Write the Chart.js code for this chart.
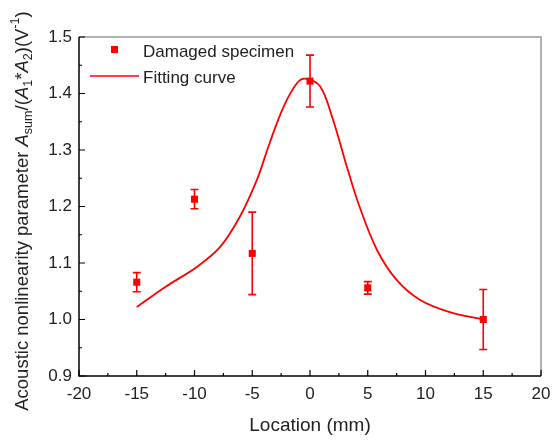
<!DOCTYPE html>
<html>
<head>
<meta charset="utf-8">
<script src="https://cdn.jsdelivr.net/npm/chart.js@4.4.1/dist/chart.umd.min.js"></script>
<style>
  html, body { margin: 0; padding: 0; background: #fff; }
  #wrap { width: 552px; height: 441px; }
</style>
</head>
<body>
<div id="wrap"><canvas id="chart" width="552" height="441"></canvas></div>
<script>
// measured points
const locations = [-15, -10, -5, 0, 5, 15]
const values = [1.066, 1.213, 1.117, 1.422, 1.056, 1.0]
const errors = [0.017, 0.017, 0.073, 0.046, 0.011, 0.053]

// fitting curve
const fitX = [-15, -12.5, -9.8, -7.8, -6.1, -4.6, -3.5, -2.3, -1.1, -0.3, 0.9, 2.0, 3.2, 4.3, 5.8, 7.5, 9.5, 12.1, 15]
const fitY = [1.022, 1.058, 1.093, 1.128, 1.181, 1.247, 1.312, 1.376, 1.419, 1.426, 1.412, 1.353, 1.27, 1.199, 1.123, 1.07, 1.035, 1.013, 1.0]

const xTicks = [-20, -15, -10, -5, 0, 5, 10, 15, 20]
const yTicks = [0.9, 1.0, 1.1, 1.2, 1.3, 1.4, 1.5]

const RED = '#ff0000'
const FONT = '"Liberation Sans", Arial, sans-serif'

function richText(ctx, parts, x, y, size) {
  // parts: [text, style] style: '', 'i', 'sub', 'sup'
  let cx = x
  parts.forEach(([t, s]) => {
    let sz = size, dy = 0, st = ''
    if (s === 'i') st = 'italic '
    if (s === 'sub') { sz = size * 0.68; dy = size * 0.3 }
    if (s === 'sup') { sz = size * 0.68; dy = -size * 0.4 }
    ctx.font = st + sz + 'px ' + FONT
    ctx.fillText(t, cx, y + dy)
    cx += ctx.measureText(t).width
  })
  return cx - x
}

function measureRich(ctx, parts, size) {
  let w = 0
  parts.forEach(([t, s]) => {
    let sz = (s === 'sub' || s === 'sup') ? size * 0.68 : size
    ctx.font = (s === 'i' ? 'italic ' : '') + sz + 'px ' + FONT
    w += ctx.measureText(t).width
  })
  return w
}

const decorPlugin = {
  id: 'decor',
  afterDatasetsDraw(chart) {
    const ctx = chart.ctx
    const xs = chart.scales.x, ys = chart.scales.y

    // error bars
    ctx.save()
    ctx.strokeStyle = RED
    ctx.lineWidth = 1.6
    locations.forEach((loc, i) => {
      const px = xs.getPixelForValue(loc)
      const top = ys.getPixelForValue(values[i] + errors[i])
      const bot = ys.getPixelForValue(values[i] - errors[i])
      ctx.beginPath()
      ctx.moveTo(px, top); ctx.lineTo(px, bot)
      ctx.moveTo(px - 4, top); ctx.lineTo(px + 4, top)
      ctx.moveTo(px - 4, bot); ctx.lineTo(px + 4, bot)
      ctx.stroke()
    })
    ctx.restore()
  },
  afterDraw(chart) {
    const ctx = chart.ctx
    const xs = chart.scales.x, ys = chart.scales.y
    const a = chart.chartArea
    ctx.save()

    // frame
    ctx.strokeStyle = '#9a9a9a'
    ctx.lineWidth = 1.5
    ctx.beginPath()
    ctx.moveTo(a.left, a.top); ctx.lineTo(a.right, a.top); ctx.lineTo(a.right, a.bottom)
    ctx.stroke()
    ctx.strokeStyle = '#000'
    ctx.beginPath()
    ctx.moveTo(a.left, a.top); ctx.lineTo(a.left, a.bottom); ctx.lineTo(a.right, a.bottom)
    ctx.stroke()

    // inward ticks
    ctx.lineWidth = 1.2
    ctx.beginPath()
    for (let v = -20; v <= 20; v += 2.5) {
      const px = xs.getPixelForValue(v)
      const len = (v % 5 === 0) ? 6 : 3
      ctx.moveTo(px, a.bottom); ctx.lineTo(px, a.bottom - len)
    }
    for (let k = 0; k <= 12; k++) {
      const v = 0.9 + k * 0.05
      const py = ys.getPixelForValue(v)
      const len = (k % 2 === 0) ? 6 : 3
      ctx.moveTo(a.left, py); ctx.lineTo(a.left + len, py)
    }
    ctx.stroke()

    // legend
    ctx.fillStyle = RED
    ctx.fillRect(111, 46, 7, 7)
    ctx.strokeStyle = RED
    ctx.lineWidth = 1.6
    ctx.beginPath()
    ctx.moveTo(90, 76); ctx.lineTo(139, 76)
    ctx.stroke()
    ctx.fillStyle = '#222'
    ctx.font = '17px ' + FONT
    ctx.textBaseline = 'middle'
    ctx.textAlign = 'left'
    ctx.fillText('Damaged specimen', 143, 52)
    ctx.fillText('Fitting curve', 143, 78)

    // x title
    ctx.textAlign = 'center'
    ctx.font = '19px ' + FONT
    ctx.fillText('Location (mm)', (a.left + a.right) / 2, 426)

    // y title with subscripts
    const parts = [
      ['Acoustic nonlinearity parameter ', ''], ['A', 'i'], ['sum', 'sub'],
      ['/(', ''], ['A', 'i'], ['1', 'sub'], ['*', ''], ['A', 'i'], ['2', 'sub'],
      [')(V', ''], ['-1', 'sup'], [')', '']
    ]
    const size = 18.5
    const w = measureRich(ctx, parts, size)
    ctx.translate(23, 211)
    ctx.rotate(-Math.PI / 2)
    ctx.textAlign = 'left'
    richText(ctx, parts, -w / 2, 0, size)
    ctx.restore()
  }
}

new Chart(document.getElementById('chart'), {
  type: 'scatter',
  data: {
    datasets: [
      {
        label: 'Fitting curve',
        data: fitX.map((x, i) => ({ x, y: fitY[i] })),
        showLine: true,
        borderColor: RED,
        borderWidth: 1.8,
        pointRadius: 0,
        tension: 0.35,
        fill: false
      },
      {
        label: 'Damaged specimen',
        data: locations.map((x, i) => ({ x, y: values[i] })),
        pointStyle: 'rect',
        pointRadius: 5,
        backgroundColor: RED,
        borderColor: RED,
        borderWidth: 0
      }
    ]
  },
  options: {
    responsive: false,
    animation: false,
    layout: { padding: { top: 37, right: 11, left: 0, bottom: 0 } },
    plugins: { legend: { display: false }, tooltip: { enabled: false } },
    scales: {
      x: {
        type: 'linear',
        min: -20, max: 20,
        afterBuildTicks: s => { s.ticks = xTicks.map(v => ({ value: v })) },
        afterFit: s => { s.height = 65; s.paddingLeft = 0; s.paddingRight = 0 },
        grid: { display: false, drawTicks: false },
        border: { display: false },
        ticks: { color: '#222', font: { family: FONT, size: 17 }, padding: 8, maxRotation: 0 }
      },
      y: {
        type: 'linear',
        min: 0.9, max: 1.5,
        afterBuildTicks: s => { s.ticks = yTicks.map(v => ({ value: v })) },
        afterFit: s => { s.width = 79; s.paddingTop = 0; s.paddingBottom = 0 },
        grid: { display: false, drawTicks: false },
        border: { display: false },
        ticks: {
          color: '#222', font: { family: FONT, size: 17 }, padding: 7,
          callback: v => v.toFixed(1)
        }
      }
    }
  },
  plugins: [decorPlugin]
})
</script>
</body>
</html>
